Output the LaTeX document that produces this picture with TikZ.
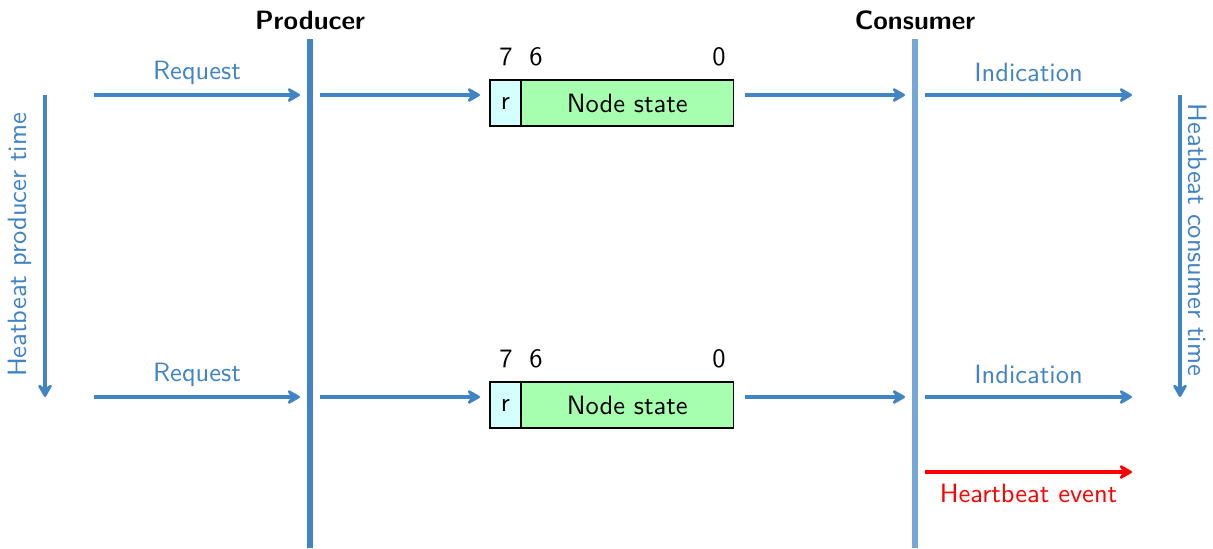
\documentclass[tikz,border=0pt]{standalone}
\usetikzlibrary{arrows.meta}
\renewcommand{\familydefault}{\sfdefault}

\definecolor{msgblue}{RGB}{64,132,197}
\definecolor{conblue}{RGB}{118,168,214}
\definecolor{bitcyan}{RGB}{212,255,255}
\definecolor{stategreen}{RGB}{165,255,175}

\tikzset{
  msg/.style={draw=msgblue, line width=1.3pt,
    -{Stealth[length=6pt,width=6.8pt,inset=2.2pt,round]}},
  msglabel/.style={text=msgblue},
  field/.style={draw, line width=0.45pt, minimum height=17.4pt,
    inner sep=0pt, outer sep=0pt},
}

\begin{document}
\begin{tikzpicture}[x=0.3774pt, y=-0.3774pt]
\useasboundingbox (0,0) rectangle (1213,548);

% the two parties
\coordinate (prodtop) at (310,39);
\coordinate (prodbot) at (310,548);
\coordinate (contop) at (915,39);
\coordinate (conbot) at (915,548);
\draw[msgblue, line width=2.3pt] (prodtop) -- (prodbot);
\draw[conblue, line width=2.6pt] (contop) -- (conbot);
\node[font=\bfseries] (prod) at (310,20) {Producer};
\node[font=\bfseries] (con) at (915,20) {Consumer};

% one heartbeat per row
\foreach \row/\y in {one/95, two/397} {
  \coordinate (req\row) at (94,\y);
  \coordinate (pin\row) at (300,\y);
  \coordinate (pout\row) at (320,\y);
  \coordinate (fin\row) at (480,\y);
  \coordinate (fout\row) at (745,\y);
  \coordinate (cin\row) at (905,\y);
  \coordinate (cout\row) at (925,\y);
  \coordinate (ind\row) at (1132,\y);

  \node[field, fill=bitcyan, minimum width=11.7pt] (r\row) at (505.5,\y+8) {r};
  \node[field, fill=stategreen, minimum width=80.2pt, anchor=west]
    (state\row) at (r\row.east) {Node state};
  \node (bsev\row) at (506,\y-38) {7};
  \node (bsix\row) at (536,\y-38) {6};
  \node (bzero\row) at (719,\y-38) {0};

  \draw[msg] (req\row) -- node[msglabel, above=0pt] {Request} (pin\row);
  \draw[msg] (pout\row) -- (fin\row);
  \draw[msg] (fout\row) -- (cin\row);
  \draw[msg] (cout\row) -- node[msglabel, above=1pt] {Indication} (ind\row);
}

% heartbeat event
\coordinate (evstart) at (925,472);
\coordinate (evend) at (1132,472);
\draw[red, line width=1.3pt, -{Stealth[length=6pt,width=6.8pt,inset=2.2pt,round]}]
  (evstart) -- node[text=red, below=0.5pt] {Heartbeat event} (evend);

% time axes
\coordinate (ptstart) at (45,95);
\coordinate (ptend) at (45,397);
\coordinate (ctstart) at (1180,95);
\coordinate (ctend) at (1180,397);
\draw[msg] (ptstart) -- (ptend);
\draw[msg] (ctstart) -- (ctend);
\node[msglabel, rotate=90] (ptime) at (20,245) {Heatbeat producer time};
\node[msglabel, rotate=-90] (ctime) at (1198,240) {Heatbeat consumer time};

\end{tikzpicture}
\end{document}
